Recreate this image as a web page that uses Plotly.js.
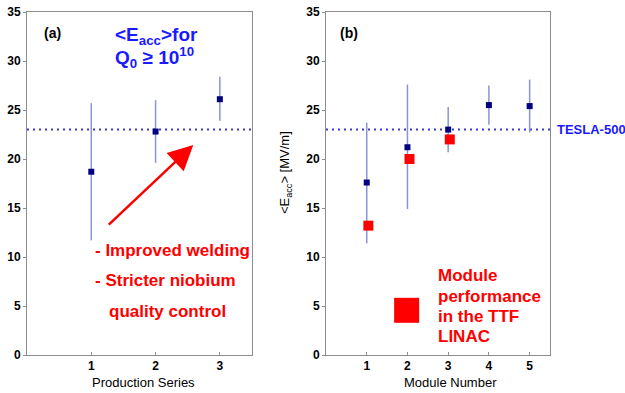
<!DOCTYPE html>
<html><head><meta charset="utf-8">
<script src="https://cdn.plot.ly/plotly-3.0.1.min.js"></script>
<style>body{margin:0;background:#fff}#c{width:625px;height:393px}</style>
</head><body><div id="c"></div>
<script>
// Panel (a): production series
const seriesA = [1, 2, 3];
const eaccA = [18.7, 22.8, 26.1];
const errHiA = [25.7, 26.0, 28.4];
const errLoA = [11.7, 19.6, 23.9];
// Panel (b): modules
const modules = [1, 2, 3, 4, 5];
const eaccB = [17.6, 21.2, 23.0, 25.5, 25.4];
const errHiB = [23.7, 27.6, 25.3, 27.5, 28.1];
const errLoB = [11.4, 14.9, 20.7, 23.5, 22.7];
// TTF LINAC module performance
const linacX = [1.04, 2.05, 3.04];
const linacE = [13.2, 20.0, 22.0];
const teslaGoal = 23;
const yTicks = [0, 5, 10, 15, 20, 25, 30, 35];

const navy = '#000080', errCol = '#8a93d6', dotCol = '#3a3acc', red = '#ff0000', blue = '#1a1aff';

function errArrays(v, hi, lo){ return {plus: hi.map((h,i)=>h-v[i]), minus: v.map((e,i)=>e-lo[i])}; }
const eA = errArrays(eaccA, errHiA, errLoA), eB = errArrays(eaccB, errHiB, errLoB);

const traces = [
  {x:[0,3.5], y:[teslaGoal,teslaGoal], xaxis:'x', yaxis:'y', mode:'lines',
   line:{color:dotCol, width:2, dash:'2px,4px'}},
  {x:[0,5.5], y:[teslaGoal,teslaGoal], xaxis:'x2', yaxis:'y2', mode:'lines',
   line:{color:dotCol, width:2, dash:'2px,4px'}},
  {x:seriesA, y:eaccA, xaxis:'x', yaxis:'y', mode:'markers',
   marker:{symbol:'square', size:6, color:navy},
   error_y:{type:'data', symmetric:false, array:eA.plus, arrayminus:eA.minus, color:errCol, thickness:1.5, width:0}},
  {x:modules, y:eaccB, xaxis:'x2', yaxis:'y2', mode:'markers',
   marker:{symbol:'square', size:6, color:navy},
   error_y:{type:'data', symmetric:false, array:eB.plus, arrayminus:eB.minus, color:errCol, thickness:1.5, width:0}},
  {x:linacX, y:linacE, xaxis:'x2', yaxis:'y2', mode:'markers',
   marker:{symbol:'square', size:10, color:red}},
  {x:[1.98], y:[4.56], xaxis:'x2', yaxis:'y2', mode:'markers',
   marker:{symbol:'square', size:25, color:red}}
];

const axBase = {showgrid:false, zeroline:false, showline:true, mirror:true, linecolor:'#8c8c8c', linewidth:1,
  tickcolor:'#8c8c8c', tickfont:{family:'Liberation Sans, Arial, sans-serif', size:12, color:'#000', weight:'bold'}};
const xTick = Object.assign({}, axBase, {ticks:'inside', ticklen:3, tickmode:'array'});
const yTick = Object.assign({}, axBase, {ticks:'outside', ticklen:3, tickmode:'array', tickvals:yTicks, range:[0,35]});

const F = 'Liberation Sans, Arial, sans-serif';
function txt(text, x, y, xref, yref, size, color, opts){
  return Object.assign({text:text, x:x, y:y, xref:xref, yref:yref, showarrow:false,
    xanchor:'center', yanchor:'middle',
    font:{family:F, size:size, color:color, weight:'bold'}}, opts||{});
}

const annotations = [
  txt('(a)', 0.389, 32.9, 'x', 'y', 14, '#000'),
  txt('(b)', 0.565, 32.9, 'x2', 'y2', 14, '#000'),
  txt('&lt;E<sub>acc</sub>&gt;for', 2.014, 32.6, 'x', 'y', 19, blue),
  txt('Q<sub>0</sub> ≥ 10<sup>10</sup>', 1.98, 30.4, 'x', 'y', 19, blue),
  txt('- Improved welding', 1.027, 10.64, 'x', 'y', 17, red, {xanchor:'left'}),
  txt('- Stricter niobium', 1.027, 7.58, 'x', 'y', 17, red, {xanchor:'left'}),
  txt('quality control', 1.244, 4.42, 'x', 'y', 17, red, {xanchor:'left'}),
  txt('Module', 2.70, 8.08, 'x2', 'y2', 17, red, {xanchor:'left'}),
  txt('performance', 2.70, 5.95, 'x2', 'y2', 17, red, {xanchor:'left'}),
  txt('in the TTF', 2.70, 3.91, 'x2', 'y2', 17, red, {xanchor:'left'}),
  txt('LINAC', 2.70, 1.87, 'x2', 'y2', 17, red, {xanchor:'left'}),
  txt('TESLA-500', 1.0096, teslaGoal, 'paper', 'y2', 13, blue, {xanchor:'left'}),
  {text:'', x:2.587, y:21.43, xref:'x', yref:'y', ax:1.249, ay:13.16, axref:'x', ayref:'y',
   showarrow:true, arrowhead:2, arrowsize:2, arrowwidth:2.5, arrowcolor:red, standoff:0},
  {text:'Production Series', x:0.2237, y:-0.0816, xref:'paper', yref:'paper', showarrow:false,
   xanchor:'center', yanchor:'middle', font:{family:F, size:13, color:'#000'}},
  {text:'Module Number', x:0.8107, y:-0.0816, xref:'paper', yref:'paper', showarrow:false,
   xanchor:'center', yanchor:'middle', font:{family:F, size:13, color:'#000'}},
  {text:'&lt;E<sub>acc</sub>&gt; [MV/m]', x:0.4933, y:0.5335, xref:'paper', yref:'paper', showarrow:false,
   xanchor:'center', yanchor:'middle', textangle:-90, font:{family:F, size:13, color:'#000'}}
];

const layout = {
  width:625, height:393, margin:{l:27, r:75, t:12, b:38},
  paper_bgcolor:'#fff', plot_bgcolor:'#fff', showlegend:false,
  xaxis:Object.assign({}, xTick, {domain:[0,0.4302], range:[0,3.5], tickvals:seriesA, anchor:'y'}),
  yaxis:Object.assign({}, yTick, {anchor:'x'}),
  xaxis2:Object.assign({}, xTick, {domain:[0.5717,1], range:[0,5.5], tickvals:modules, anchor:'y2'}),
  yaxis2:Object.assign({}, yTick, {anchor:'x2'}),
  annotations:annotations
};
Plotly.newPlot('c', traces, layout, {staticPlot:true, displayModeBar:false});
</script></body></html>
